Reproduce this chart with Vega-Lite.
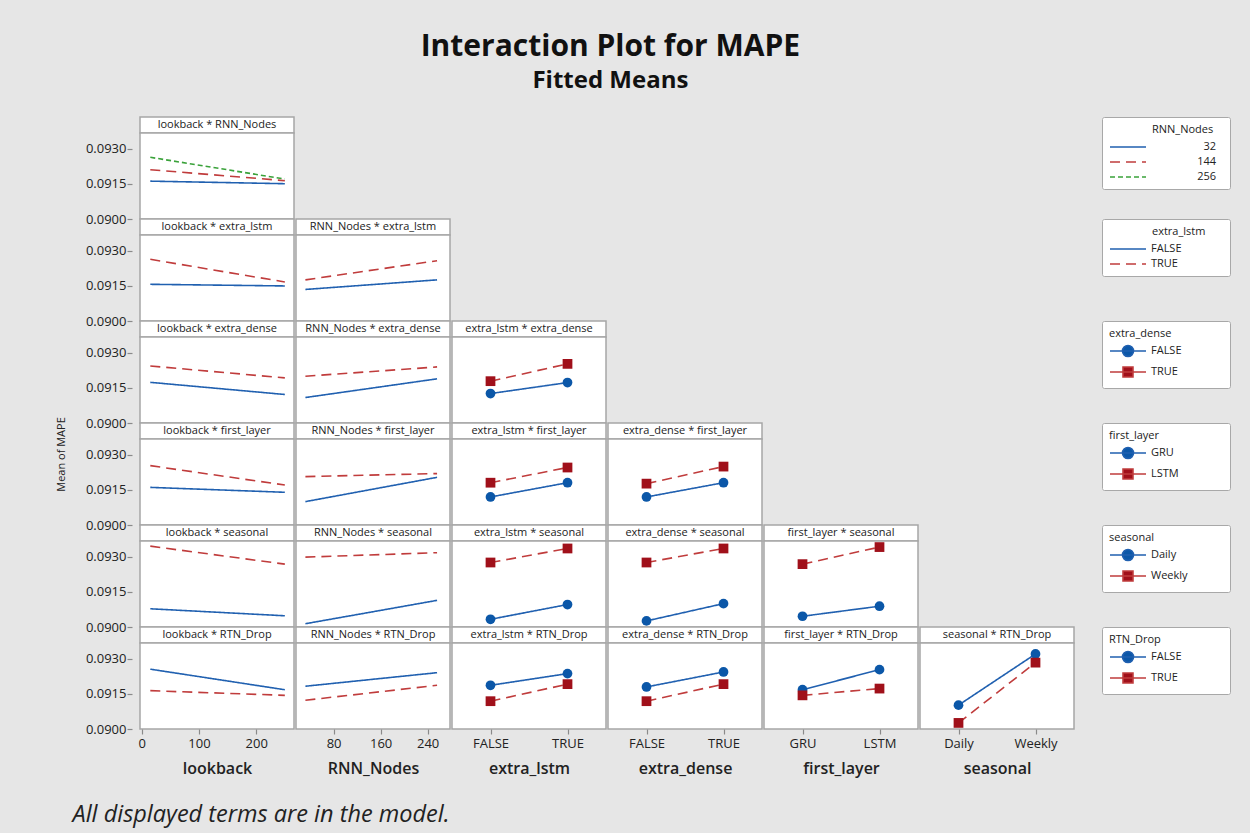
{
  "$schema": "https://vega.github.io/schema/vega-lite/v6.json",
  "padding": {"left": 54, "top": 32, "right": 21, "bottom": 8},
  "title": {"text": "Interaction Plot for MAPE", "subtitle": "Fitted Means", "fontSize": 30, "subtitleFontSize": 24, "fontWeight": "bold", "subtitleFontWeight": "bold", "font": "Open Sans", "subtitleFont": "Open Sans", "color": "#111111", "subtitleColor": "#111111", "anchor": "middle", "offset": 23, "dx": -32, "subtitlePadding": 7},
  "datasets": {
    "p11": [{"x":15,"s":"32","y":0.09162},{"x":250,"s":"32","y":0.09151},{"x":15,"s":"144","y":0.09211},{"x":250,"s":"144","y":0.09164},{"x":15,"s":"256","y":0.09264},{"x":250,"s":"256","y":0.09171}],
    "p21": [{"x":15,"s":"FALSE","y":0.09157},{"x":250,"s":"FALSE","y":0.0915},{"x":15,"s":"TRUE","y":0.09264},{"x":250,"s":"TRUE","y":0.09167}],
    "p22": [{"x":32,"s":"FALSE","y":0.09135},{"x":256,"s":"FALSE","y":0.09176},{"x":32,"s":"TRUE","y":0.09176},{"x":256,"s":"TRUE","y":0.09258}],
    "p31": [{"x":15,"s":"FALSE","y":0.09174},{"x":250,"s":"FALSE","y":0.09122},{"x":15,"s":"TRUE","y":0.09244},{"x":250,"s":"TRUE","y":0.09193}],
    "p32": [{"x":32,"s":"FALSE","y":0.09109},{"x":256,"s":"FALSE","y":0.09189},{"x":32,"s":"TRUE","y":0.092},{"x":256,"s":"TRUE","y":0.0924}],
    "p33": [{"x":"FALSE","s":"FALSE","y":0.09126},{"x":"TRUE","s":"FALSE","y":0.09173},{"x":"FALSE","s":"TRUE","y":0.09179},{"x":"TRUE","s":"TRUE","y":0.09253}],
    "p41": [{"x":15,"s":"GRU","y":0.09161},{"x":250,"s":"GRU","y":0.0914},{"x":15,"s":"LSTM","y":0.09254},{"x":250,"s":"LSTM","y":0.09171}],
    "p42": [{"x":32,"s":"GRU","y":0.091},{"x":256,"s":"GRU","y":0.09204},{"x":32,"s":"LSTM","y":0.09207},{"x":256,"s":"LSTM","y":0.0922}],
    "p43": [{"x":"FALSE","s":"GRU","y":0.0912},{"x":"TRUE","s":"GRU","y":0.09181},{"x":"FALSE","s":"LSTM","y":0.09181},{"x":"TRUE","s":"LSTM","y":0.09246}],
    "p44": [{"x":"FALSE","s":"GRU","y":0.0912},{"x":"TRUE","s":"GRU","y":0.09181},{"x":"FALSE","s":"LSTM","y":0.09177},{"x":"TRUE","s":"LSTM","y":0.0925}],
    "p51": [{"x":15,"s":"Daily","y":0.09078},{"x":250,"s":"Daily","y":0.09048},{"x":15,"s":"Weekly","y":0.09346},{"x":250,"s":"Weekly","y":0.09269}],
    "p52": [{"x":32,"s":"Daily","y":0.09014},{"x":256,"s":"Daily","y":0.09114},{"x":32,"s":"Weekly","y":0.09299},{"x":256,"s":"Weekly","y":0.09318}],
    "p53": [{"x":"FALSE","s":"Daily","y":0.09033},{"x":"TRUE","s":"Daily","y":0.09096},{"x":"FALSE","s":"Weekly","y":0.09276},{"x":"TRUE","s":"Weekly","y":0.09336}],
    "p54": [{"x":"FALSE","s":"Daily","y":0.09026},{"x":"TRUE","s":"Daily","y":0.091},{"x":"FALSE","s":"Weekly","y":0.09276},{"x":"TRUE","s":"Weekly","y":0.09336}],
    "p55": [{"x":"GRU","s":"Daily","y":0.09046},{"x":"LSTM","s":"Daily","y":0.09089},{"x":"GRU","s":"Weekly","y":0.09269},{"x":"LSTM","s":"Weekly","y":0.09342}],
    "p61": [{"x":15,"s":"FALSE","y":0.09256},{"x":250,"s":"FALSE","y":0.09168},{"x":15,"s":"TRUE","y":0.09164},{"x":250,"s":"TRUE","y":0.09144}],
    "p62": [{"x":32,"s":"FALSE","y":0.09183},{"x":256,"s":"FALSE","y":0.09241},{"x":32,"s":"TRUE","y":0.09123},{"x":256,"s":"TRUE","y":0.09187}],
    "p63": [{"x":"FALSE","s":"FALSE","y":0.09187},{"x":"TRUE","s":"FALSE","y":0.09237},{"x":"FALSE","s":"TRUE","y":0.09119},{"x":"TRUE","s":"TRUE","y":0.09192}],
    "p64": [{"x":"FALSE","s":"FALSE","y":0.0918},{"x":"TRUE","s":"FALSE","y":0.09244},{"x":"FALSE","s":"TRUE","y":0.09119},{"x":"TRUE","s":"TRUE","y":0.09192}],
    "p65": [{"x":"GRU","s":"FALSE","y":0.09168},{"x":"LSTM","s":"FALSE","y":0.09254},{"x":"GRU","s":"TRUE","y":0.09144},{"x":"LSTM","s":"TRUE","y":0.09173}],
    "p66": [{"x":"Daily","s":"FALSE","y":0.09102},{"x":"Weekly","s":"FALSE","y":0.09321},{"x":"Daily","s":"TRUE","y":0.09026},{"x":"Weekly","s":"TRUE","y":0.09284}]
  },
  "spacing": 25,
  "resolve": {"scale": {"x": "independent", "y": "independent", "stroke": "independent", "fill": "independent", "shape": "independent", "strokeDash": "independent"}, "axis": {"x": "independent", "y": "independent"}, "legend": {"stroke": "independent", "fill": "independent", "shape": "independent", "strokeDash": "independent"}},
  "vconcat": [
    {
      "spacing": 0,
      "resolve": {"scale": {"x": "independent", "y": "independent", "stroke": "independent", "fill": "independent", "shape": "independent", "strokeDash": "independent"}, "axis": {"x": "independent", "y": "independent"}, "legend": {"stroke": "independent", "fill": "independent", "shape": "independent", "strokeDash": "independent"}},
      "hconcat": [
        {
          "spacing": 0, "bounds": "flush",
          "resolve": {"scale": {"x": "independent", "y": "independent", "stroke": "independent", "fill": "independent", "shape": "independent", "strokeDash": "independent"}, "axis": {"x": "independent", "y": "independent"}, "legend": {"stroke": "independent", "fill": "independent", "shape": "independent", "strokeDash": "independent"}},
          "vconcat": [
            {"width":154,"height":16,"view":{"stroke":"#a6a6a6","strokeWidth":1.5,"fill":"#ffffff"},"data":{"values":[{"t":"lookback * RNN_Nodes"}]},"mark":{"type":"text","fontSize":11,"font":"Open Sans","color":"#222222"},"encoding":{"text":{"field":"t","type":"nominal"}}},
            {"width":154,"height":86,"view":{"stroke":"#a6a6a6","strokeWidth":1.5,"fill":"#ffffff"},"data":{"name":"p11"},"mark":{"type":"line","strokeWidth":1.6},"encoding":{"x":{"field":"x","type":"quantitative","scale":{"domain":[-3,266],"nice":false,"zero":false},"axis":null},"y":{"field":"y","type":"quantitative","scale":{"domain":[0.09,0.09368],"nice":false,"zero":false},"axis":{"values":[0.09,0.0915,0.093],"format":".4f","title":null}},"stroke":{"field":"s","type":"nominal","scale":{"domain":["32","144","256"],"range":["#2060b0","#c03c3c","#3aa23a"]},"legend":null},"strokeDash":{"field":"s","type":"nominal","scale":{"domain":["32","144","256"],"range":[[1,0],[10,6],[5,3]]},"legend":null}}},
            {"width":154,"height":16,"view":{"stroke":"#a6a6a6","strokeWidth":1.5,"fill":"#ffffff"},"data":{"values":[{"t":"lookback * extra_lstm"}]},"mark":{"type":"text","fontSize":11,"font":"Open Sans","color":"#222222"},"encoding":{"text":{"field":"t","type":"nominal"}}},
            {"width":154,"height":86,"view":{"stroke":"#a6a6a6","strokeWidth":1.5,"fill":"#ffffff"},"data":{"name":"p21"},"mark":{"type":"line","strokeWidth":1.6},"encoding":{"x":{"field":"x","type":"quantitative","scale":{"domain":[-3,266],"nice":false,"zero":false},"axis":null},"y":{"field":"y","type":"quantitative","scale":{"domain":[0.09,0.09368],"nice":false,"zero":false},"axis":{"values":[0.09,0.0915,0.093],"format":".4f","title":null}},"stroke":{"field":"s","type":"nominal","scale":{"domain":["FALSE","TRUE"],"range":["#2060b0","#c03c3c"]},"legend":null},"strokeDash":{"field":"s","type":"nominal","scale":{"domain":["FALSE","TRUE"],"range":[[1,0],[10,6]]},"legend":null}}},
            {"width":154,"height":16,"view":{"stroke":"#a6a6a6","strokeWidth":1.5,"fill":"#ffffff"},"data":{"values":[{"t":"lookback * extra_dense"}]},"mark":{"type":"text","fontSize":11,"font":"Open Sans","color":"#222222"},"encoding":{"text":{"field":"t","type":"nominal"}}},
            {"width":154,"height":86,"view":{"stroke":"#a6a6a6","strokeWidth":1.5,"fill":"#ffffff"},"data":{"name":"p31"},"mark":{"type":"line","strokeWidth":1.6},"encoding":{"x":{"field":"x","type":"quantitative","scale":{"domain":[-3,266],"nice":false,"zero":false},"axis":null},"y":{"field":"y","type":"quantitative","scale":{"domain":[0.09,0.09368],"nice":false,"zero":false},"axis":{"values":[0.09,0.0915,0.093],"format":".4f","title":null}},"stroke":{"field":"s","type":"nominal","scale":{"domain":["FALSE","TRUE"],"range":["#2060b0","#c03c3c"]},"legend":null},"strokeDash":{"field":"s","type":"nominal","scale":{"domain":["FALSE","TRUE"],"range":[[1,0],[10,6]]},"legend":null}}},
            {"width":154,"height":16,"view":{"stroke":"#a6a6a6","strokeWidth":1.5,"fill":"#ffffff"},"data":{"values":[{"t":"lookback * first_layer"}]},"mark":{"type":"text","fontSize":11,"font":"Open Sans","color":"#222222"},"encoding":{"text":{"field":"t","type":"nominal"}}},
            {"width":154,"height":86,"view":{"stroke":"#a6a6a6","strokeWidth":1.5,"fill":"#ffffff"},"data":{"name":"p41"},"mark":{"type":"line","strokeWidth":1.6},"encoding":{"x":{"field":"x","type":"quantitative","scale":{"domain":[-3,266],"nice":false,"zero":false},"axis":null},"y":{"field":"y","type":"quantitative","scale":{"domain":[0.09,0.09368],"nice":false,"zero":false},"axis":{"values":[0.09,0.0915,0.093],"format":".4f","title":"Mean of MAPE","titleFontSize":11,"titleFontWeight":"normal","titleX":-66,"titleY":15,"titleAngle":270,"titleAlign":"center","titleBaseline":"bottom"}},"stroke":{"field":"s","type":"nominal","scale":{"domain":["GRU","LSTM"],"range":["#2060b0","#c03c3c"]},"legend":null},"strokeDash":{"field":"s","type":"nominal","scale":{"domain":["GRU","LSTM"],"range":[[1,0],[10,6]]},"legend":null}}},
            {"width":154,"height":16,"view":{"stroke":"#a6a6a6","strokeWidth":1.5,"fill":"#ffffff"},"data":{"values":[{"t":"lookback * seasonal"}]},"mark":{"type":"text","fontSize":11,"font":"Open Sans","color":"#222222"},"encoding":{"text":{"field":"t","type":"nominal"}}},
            {"width":154,"height":86,"view":{"stroke":"#a6a6a6","strokeWidth":1.5,"fill":"#ffffff"},"data":{"name":"p51"},"mark":{"type":"line","strokeWidth":1.6},"encoding":{"x":{"field":"x","type":"quantitative","scale":{"domain":[-3,266],"nice":false,"zero":false},"axis":null},"y":{"field":"y","type":"quantitative","scale":{"domain":[0.09,0.09368],"nice":false,"zero":false},"axis":{"values":[0.09,0.0915,0.093],"format":".4f","title":null}},"stroke":{"field":"s","type":"nominal","scale":{"domain":["Daily","Weekly"],"range":["#2060b0","#c03c3c"]},"legend":null},"strokeDash":{"field":"s","type":"nominal","scale":{"domain":["Daily","Weekly"],"range":[[1,0],[10,6]]},"legend":null}}},
            {"width":154,"height":16,"view":{"stroke":"#a6a6a6","strokeWidth":1.5,"fill":"#ffffff"},"data":{"values":[{"t":"lookback * RTN_Drop"}]},"mark":{"type":"text","fontSize":11,"font":"Open Sans","color":"#222222"},"encoding":{"text":{"field":"t","type":"nominal"}}},
            {"width":154,"height":86,"view":{"stroke":"#a6a6a6","strokeWidth":1.5,"fill":"#ffffff"},"data":{"name":"p61"},"mark":{"type":"line","strokeWidth":1.6},"encoding":{"x":{"field":"x","type":"quantitative","scale":{"domain":[-3,266],"nice":false,"zero":false},"axis":{"values":[0,100,200],"title":"lookback"}},"y":{"field":"y","type":"quantitative","scale":{"domain":[0.09,0.09368],"nice":false,"zero":false},"axis":{"values":[0.09,0.0915,0.093],"format":".4f","title":null}},"stroke":{"field":"s","type":"nominal","scale":{"domain":["FALSE","TRUE"],"range":["#2060b0","#c03c3c"]},"legend":null},"strokeDash":{"field":"s","type":"nominal","scale":{"domain":["FALSE","TRUE"],"range":[[1,0],[10,6]]},"legend":null}}}
          ]
        },
        {
          "spacing": 0, "bounds": "flush",
          "resolve": {"scale": {"x": "independent", "y": "independent", "stroke": "independent", "fill": "independent", "shape": "independent", "strokeDash": "independent"}, "axis": {"x": "independent", "y": "independent"}, "legend": {"stroke": "independent", "fill": "independent", "shape": "independent", "strokeDash": "independent"}},
          "vconcat": [
            {"width":154,"height":102,"data":{"values":[]},"mark":"point"},
            {"width":154,"height":16,"view":{"stroke":"#a6a6a6","strokeWidth":1.5,"fill":"#ffffff"},"data":{"values":[{"t":"RNN_Nodes * extra_lstm"}]},"mark":{"type":"text","fontSize":11,"font":"Open Sans","color":"#222222"},"encoding":{"text":{"field":"t","type":"nominal"}}},
            {"width":154,"height":86,"view":{"stroke":"#a6a6a6","strokeWidth":1.5,"fill":"#ffffff"},"data":{"name":"p22"},"mark":{"type":"line","strokeWidth":1.6},"encoding":{"x":{"field":"x","type":"quantitative","scale":{"domain":[16,278],"nice":false,"zero":false},"axis":null},"y":{"field":"y","type":"quantitative","scale":{"domain":[0.09,0.09368],"nice":false,"zero":false},"axis":null},"stroke":{"field":"s","type":"nominal","scale":{"domain":["FALSE","TRUE"],"range":["#2060b0","#c03c3c"]},"legend":null},"strokeDash":{"field":"s","type":"nominal","scale":{"domain":["FALSE","TRUE"],"range":[[1,0],[10,6]]},"legend":null}}},
            {"width":154,"height":16,"view":{"stroke":"#a6a6a6","strokeWidth":1.5,"fill":"#ffffff"},"data":{"values":[{"t":"RNN_Nodes * extra_dense"}]},"mark":{"type":"text","fontSize":11,"font":"Open Sans","color":"#222222"},"encoding":{"text":{"field":"t","type":"nominal"}}},
            {"width":154,"height":86,"view":{"stroke":"#a6a6a6","strokeWidth":1.5,"fill":"#ffffff"},"data":{"name":"p32"},"mark":{"type":"line","strokeWidth":1.6},"encoding":{"x":{"field":"x","type":"quantitative","scale":{"domain":[16,278],"nice":false,"zero":false},"axis":null},"y":{"field":"y","type":"quantitative","scale":{"domain":[0.09,0.09368],"nice":false,"zero":false},"axis":null},"stroke":{"field":"s","type":"nominal","scale":{"domain":["FALSE","TRUE"],"range":["#2060b0","#c03c3c"]},"legend":null},"strokeDash":{"field":"s","type":"nominal","scale":{"domain":["FALSE","TRUE"],"range":[[1,0],[10,6]]},"legend":null}}},
            {"width":154,"height":16,"view":{"stroke":"#a6a6a6","strokeWidth":1.5,"fill":"#ffffff"},"data":{"values":[{"t":"RNN_Nodes * first_layer"}]},"mark":{"type":"text","fontSize":11,"font":"Open Sans","color":"#222222"},"encoding":{"text":{"field":"t","type":"nominal"}}},
            {"width":154,"height":86,"view":{"stroke":"#a6a6a6","strokeWidth":1.5,"fill":"#ffffff"},"data":{"name":"p42"},"mark":{"type":"line","strokeWidth":1.6},"encoding":{"x":{"field":"x","type":"quantitative","scale":{"domain":[16,278],"nice":false,"zero":false},"axis":null},"y":{"field":"y","type":"quantitative","scale":{"domain":[0.09,0.09368],"nice":false,"zero":false},"axis":null},"stroke":{"field":"s","type":"nominal","scale":{"domain":["GRU","LSTM"],"range":["#2060b0","#c03c3c"]},"legend":null},"strokeDash":{"field":"s","type":"nominal","scale":{"domain":["GRU","LSTM"],"range":[[1,0],[10,6]]},"legend":null}}},
            {"width":154,"height":16,"view":{"stroke":"#a6a6a6","strokeWidth":1.5,"fill":"#ffffff"},"data":{"values":[{"t":"RNN_Nodes * seasonal"}]},"mark":{"type":"text","fontSize":11,"font":"Open Sans","color":"#222222"},"encoding":{"text":{"field":"t","type":"nominal"}}},
            {"width":154,"height":86,"view":{"stroke":"#a6a6a6","strokeWidth":1.5,"fill":"#ffffff"},"data":{"name":"p52"},"mark":{"type":"line","strokeWidth":1.6},"encoding":{"x":{"field":"x","type":"quantitative","scale":{"domain":[16,278],"nice":false,"zero":false},"axis":null},"y":{"field":"y","type":"quantitative","scale":{"domain":[0.09,0.09368],"nice":false,"zero":false},"axis":null},"stroke":{"field":"s","type":"nominal","scale":{"domain":["Daily","Weekly"],"range":["#2060b0","#c03c3c"]},"legend":null},"strokeDash":{"field":"s","type":"nominal","scale":{"domain":["Daily","Weekly"],"range":[[1,0],[10,6]]},"legend":null}}},
            {"width":154,"height":16,"view":{"stroke":"#a6a6a6","strokeWidth":1.5,"fill":"#ffffff"},"data":{"values":[{"t":"RNN_Nodes * RTN_Drop"}]},"mark":{"type":"text","fontSize":11,"font":"Open Sans","color":"#222222"},"encoding":{"text":{"field":"t","type":"nominal"}}},
            {"width":154,"height":86,"view":{"stroke":"#a6a6a6","strokeWidth":1.5,"fill":"#ffffff"},"data":{"name":"p62"},"mark":{"type":"line","strokeWidth":1.6},"encoding":{"x":{"field":"x","type":"quantitative","scale":{"domain":[16,278],"nice":false,"zero":false},"axis":{"values":[80,160,240],"title":"RNN_Nodes"}},"y":{"field":"y","type":"quantitative","scale":{"domain":[0.09,0.09368],"nice":false,"zero":false},"axis":null},"stroke":{"field":"s","type":"nominal","scale":{"domain":["FALSE","TRUE"],"range":["#2060b0","#c03c3c"]},"legend":null},"strokeDash":{"field":"s","type":"nominal","scale":{"domain":["FALSE","TRUE"],"range":[[1,0],[10,6]]},"legend":null}}}
          ]
        },
        {
          "spacing": 0, "bounds": "flush",
          "resolve": {"scale": {"x": "independent", "y": "independent", "stroke": "independent", "fill": "independent", "shape": "independent", "strokeDash": "independent"}, "axis": {"x": "independent", "y": "independent"}, "legend": {"stroke": "independent", "fill": "independent", "shape": "independent", "strokeDash": "independent"}},
          "vconcat": [
            {"width":154,"height":204,"data":{"values":[]},"mark":"point"},
            {"width":154,"height":16,"view":{"stroke":"#a6a6a6","strokeWidth":1.5,"fill":"#ffffff"},"data":{"values":[{"t":"extra_lstm * extra_dense"}]},"mark":{"type":"text","fontSize":11,"font":"Open Sans","color":"#222222"},"encoding":{"text":{"field":"t","type":"nominal"}}},
            {"width":154,"height":86,"view":{"stroke":"#a6a6a6","strokeWidth":1.5,"fill":"#ffffff"},"data":{"name":"p33"},"encoding":{"x":{"field":"x","type":"nominal","scale":{"type":"point","domain":["FALSE","TRUE"],"padding":0.5},"axis":null},"y":{"field":"y","type":"quantitative","scale":{"domain":[0.09,0.09368],"nice":false,"zero":false},"axis":null}},
             "layer":[
              {"mark":{"type":"line","strokeWidth":1.6},"encoding":{"stroke":{"field":"s","type":"nominal","scale":{"domain":["FALSE","TRUE"],"range":["#2060b0","#c03c3c"]},"legend":null},"strokeDash":{"field":"s","type":"nominal","scale":{"domain":["FALSE","TRUE"],"range":[[1,0],[10,6]]},"legend":null}}},
              {"mark":{"type":"point","filled":true,"size":95,"opacity":1},"encoding":{"fill":{"field":"s","type":"nominal","scale":{"domain":["FALSE","TRUE"],"range":["#0b57a8","#a0101a"]},"legend":null},"shape":{"field":"s","type":"nominal","scale":{"domain":["FALSE","TRUE"],"range":["circle","square"]},"legend":null}}}
             ]},
            {"width":154,"height":16,"view":{"stroke":"#a6a6a6","strokeWidth":1.5,"fill":"#ffffff"},"data":{"values":[{"t":"extra_lstm * first_layer"}]},"mark":{"type":"text","fontSize":11,"font":"Open Sans","color":"#222222"},"encoding":{"text":{"field":"t","type":"nominal"}}},
            {"width":154,"height":86,"view":{"stroke":"#a6a6a6","strokeWidth":1.5,"fill":"#ffffff"},"data":{"name":"p43"},"encoding":{"x":{"field":"x","type":"nominal","scale":{"type":"point","domain":["FALSE","TRUE"],"padding":0.5},"axis":null},"y":{"field":"y","type":"quantitative","scale":{"domain":[0.09,0.09368],"nice":false,"zero":false},"axis":null}},
             "layer":[
              {"mark":{"type":"line","strokeWidth":1.6},"encoding":{"stroke":{"field":"s","type":"nominal","scale":{"domain":["GRU","LSTM"],"range":["#2060b0","#c03c3c"]},"legend":null},"strokeDash":{"field":"s","type":"nominal","scale":{"domain":["GRU","LSTM"],"range":[[1,0],[10,6]]},"legend":null}}},
              {"mark":{"type":"point","filled":true,"size":95,"opacity":1},"encoding":{"fill":{"field":"s","type":"nominal","scale":{"domain":["GRU","LSTM"],"range":["#0b57a8","#a0101a"]},"legend":null},"shape":{"field":"s","type":"nominal","scale":{"domain":["GRU","LSTM"],"range":["circle","square"]},"legend":null}}}
             ]},
            {"width":154,"height":16,"view":{"stroke":"#a6a6a6","strokeWidth":1.5,"fill":"#ffffff"},"data":{"values":[{"t":"extra_lstm * seasonal"}]},"mark":{"type":"text","fontSize":11,"font":"Open Sans","color":"#222222"},"encoding":{"text":{"field":"t","type":"nominal"}}},
            {"width":154,"height":86,"view":{"stroke":"#a6a6a6","strokeWidth":1.5,"fill":"#ffffff"},"data":{"name":"p53"},"encoding":{"x":{"field":"x","type":"nominal","scale":{"type":"point","domain":["FALSE","TRUE"],"padding":0.5},"axis":null},"y":{"field":"y","type":"quantitative","scale":{"domain":[0.09,0.09368],"nice":false,"zero":false},"axis":null}},
             "layer":[
              {"mark":{"type":"line","strokeWidth":1.6},"encoding":{"stroke":{"field":"s","type":"nominal","scale":{"domain":["Daily","Weekly"],"range":["#2060b0","#c03c3c"]},"legend":null},"strokeDash":{"field":"s","type":"nominal","scale":{"domain":["Daily","Weekly"],"range":[[1,0],[10,6]]},"legend":null}}},
              {"mark":{"type":"point","filled":true,"size":95,"opacity":1},"encoding":{"fill":{"field":"s","type":"nominal","scale":{"domain":["Daily","Weekly"],"range":["#0b57a8","#a0101a"]},"legend":null},"shape":{"field":"s","type":"nominal","scale":{"domain":["Daily","Weekly"],"range":["circle","square"]},"legend":null}}}
             ]},
            {"width":154,"height":16,"view":{"stroke":"#a6a6a6","strokeWidth":1.5,"fill":"#ffffff"},"data":{"values":[{"t":"extra_lstm * RTN_Drop"}]},"mark":{"type":"text","fontSize":11,"font":"Open Sans","color":"#222222"},"encoding":{"text":{"field":"t","type":"nominal"}}},
            {"width":154,"height":86,"view":{"stroke":"#a6a6a6","strokeWidth":1.5,"fill":"#ffffff"},"data":{"name":"p63"},"encoding":{"x":{"field":"x","type":"nominal","scale":{"type":"point","domain":["FALSE","TRUE"],"padding":0.5},"axis":{"title":"extra_lstm"}},"y":{"field":"y","type":"quantitative","scale":{"domain":[0.09,0.09368],"nice":false,"zero":false},"axis":null}},
             "layer":[
              {"mark":{"type":"line","strokeWidth":1.6},"encoding":{"stroke":{"field":"s","type":"nominal","scale":{"domain":["FALSE","TRUE"],"range":["#2060b0","#c03c3c"]},"legend":null},"strokeDash":{"field":"s","type":"nominal","scale":{"domain":["FALSE","TRUE"],"range":[[1,0],[10,6]]},"legend":null}}},
              {"mark":{"type":"point","filled":true,"size":95,"opacity":1},"encoding":{"fill":{"field":"s","type":"nominal","scale":{"domain":["FALSE","TRUE"],"range":["#0b57a8","#a0101a"]},"legend":null},"shape":{"field":"s","type":"nominal","scale":{"domain":["FALSE","TRUE"],"range":["circle","square"]},"legend":null}}}
             ]}
          ]
        },
        {
          "spacing": 0, "bounds": "flush",
          "resolve": {"scale": {"x": "independent", "y": "independent", "stroke": "independent", "fill": "independent", "shape": "independent", "strokeDash": "independent"}, "axis": {"x": "independent", "y": "independent"}, "legend": {"stroke": "independent", "fill": "independent", "shape": "independent", "strokeDash": "independent"}},
          "vconcat": [
            {"width":154,"height":306,"data":{"values":[]},"mark":"point"},
            {"width":154,"height":16,"view":{"stroke":"#a6a6a6","strokeWidth":1.5,"fill":"#ffffff"},"data":{"values":[{"t":"extra_dense * first_layer"}]},"mark":{"type":"text","fontSize":11,"font":"Open Sans","color":"#222222"},"encoding":{"text":{"field":"t","type":"nominal"}}},
            {"width":154,"height":86,"view":{"stroke":"#a6a6a6","strokeWidth":1.5,"fill":"#ffffff"},"data":{"name":"p44"},"encoding":{"x":{"field":"x","type":"nominal","scale":{"type":"point","domain":["FALSE","TRUE"],"padding":0.5},"axis":null},"y":{"field":"y","type":"quantitative","scale":{"domain":[0.09,0.09368],"nice":false,"zero":false},"axis":null}},
             "layer":[
              {"mark":{"type":"line","strokeWidth":1.6},"encoding":{"stroke":{"field":"s","type":"nominal","scale":{"domain":["GRU","LSTM"],"range":["#2060b0","#c03c3c"]},"legend":null},"strokeDash":{"field":"s","type":"nominal","scale":{"domain":["GRU","LSTM"],"range":[[1,0],[10,6]]},"legend":null}}},
              {"mark":{"type":"point","filled":true,"size":95,"opacity":1},"encoding":{"fill":{"field":"s","type":"nominal","scale":{"domain":["GRU","LSTM"],"range":["#0b57a8","#a0101a"]},"legend":null},"shape":{"field":"s","type":"nominal","scale":{"domain":["GRU","LSTM"],"range":["circle","square"]},"legend":null}}}
             ]},
            {"width":154,"height":16,"view":{"stroke":"#a6a6a6","strokeWidth":1.5,"fill":"#ffffff"},"data":{"values":[{"t":"extra_dense * seasonal"}]},"mark":{"type":"text","fontSize":11,"font":"Open Sans","color":"#222222"},"encoding":{"text":{"field":"t","type":"nominal"}}},
            {"width":154,"height":86,"view":{"stroke":"#a6a6a6","strokeWidth":1.5,"fill":"#ffffff"},"data":{"name":"p54"},"encoding":{"x":{"field":"x","type":"nominal","scale":{"type":"point","domain":["FALSE","TRUE"],"padding":0.5},"axis":null},"y":{"field":"y","type":"quantitative","scale":{"domain":[0.09,0.09368],"nice":false,"zero":false},"axis":null}},
             "layer":[
              {"mark":{"type":"line","strokeWidth":1.6},"encoding":{"stroke":{"field":"s","type":"nominal","scale":{"domain":["Daily","Weekly"],"range":["#2060b0","#c03c3c"]},"legend":null},"strokeDash":{"field":"s","type":"nominal","scale":{"domain":["Daily","Weekly"],"range":[[1,0],[10,6]]},"legend":null}}},
              {"mark":{"type":"point","filled":true,"size":95,"opacity":1},"encoding":{"fill":{"field":"s","type":"nominal","scale":{"domain":["Daily","Weekly"],"range":["#0b57a8","#a0101a"]},"legend":null},"shape":{"field":"s","type":"nominal","scale":{"domain":["Daily","Weekly"],"range":["circle","square"]},"legend":null}}}
             ]},
            {"width":154,"height":16,"view":{"stroke":"#a6a6a6","strokeWidth":1.5,"fill":"#ffffff"},"data":{"values":[{"t":"extra_dense * RTN_Drop"}]},"mark":{"type":"text","fontSize":11,"font":"Open Sans","color":"#222222"},"encoding":{"text":{"field":"t","type":"nominal"}}},
            {"width":154,"height":86,"view":{"stroke":"#a6a6a6","strokeWidth":1.5,"fill":"#ffffff"},"data":{"name":"p64"},"encoding":{"x":{"field":"x","type":"nominal","scale":{"type":"point","domain":["FALSE","TRUE"],"padding":0.5},"axis":{"title":"extra_dense"}},"y":{"field":"y","type":"quantitative","scale":{"domain":[0.09,0.09368],"nice":false,"zero":false},"axis":null}},
             "layer":[
              {"mark":{"type":"line","strokeWidth":1.6},"encoding":{"stroke":{"field":"s","type":"nominal","scale":{"domain":["FALSE","TRUE"],"range":["#2060b0","#c03c3c"]},"legend":null},"strokeDash":{"field":"s","type":"nominal","scale":{"domain":["FALSE","TRUE"],"range":[[1,0],[10,6]]},"legend":null}}},
              {"mark":{"type":"point","filled":true,"size":95,"opacity":1},"encoding":{"fill":{"field":"s","type":"nominal","scale":{"domain":["FALSE","TRUE"],"range":["#0b57a8","#a0101a"]},"legend":null},"shape":{"field":"s","type":"nominal","scale":{"domain":["FALSE","TRUE"],"range":["circle","square"]},"legend":null}}}
             ]}
          ]
        },
        {
          "spacing": 0, "bounds": "flush",
          "resolve": {"scale": {"x": "independent", "y": "independent", "stroke": "independent", "fill": "independent", "shape": "independent", "strokeDash": "independent"}, "axis": {"x": "independent", "y": "independent"}, "legend": {"stroke": "independent", "fill": "independent", "shape": "independent", "strokeDash": "independent"}},
          "vconcat": [
            {"width":154,"height":408,"data":{"values":[]},"mark":"point"},
            {"width":154,"height":16,"view":{"stroke":"#a6a6a6","strokeWidth":1.5,"fill":"#ffffff"},"data":{"values":[{"t":"first_layer * seasonal"}]},"mark":{"type":"text","fontSize":11,"font":"Open Sans","color":"#222222"},"encoding":{"text":{"field":"t","type":"nominal"}}},
            {"width":154,"height":86,"view":{"stroke":"#a6a6a6","strokeWidth":1.5,"fill":"#ffffff"},"data":{"name":"p55"},"encoding":{"x":{"field":"x","type":"nominal","scale":{"type":"point","domain":["GRU","LSTM"],"padding":0.5},"axis":null},"y":{"field":"y","type":"quantitative","scale":{"domain":[0.09,0.09368],"nice":false,"zero":false},"axis":null}},
             "layer":[
              {"mark":{"type":"line","strokeWidth":1.6},"encoding":{"stroke":{"field":"s","type":"nominal","scale":{"domain":["Daily","Weekly"],"range":["#2060b0","#c03c3c"]},"legend":null},"strokeDash":{"field":"s","type":"nominal","scale":{"domain":["Daily","Weekly"],"range":[[1,0],[10,6]]},"legend":null}}},
              {"mark":{"type":"point","filled":true,"size":95,"opacity":1},"encoding":{"fill":{"field":"s","type":"nominal","scale":{"domain":["Daily","Weekly"],"range":["#0b57a8","#a0101a"]},"legend":null},"shape":{"field":"s","type":"nominal","scale":{"domain":["Daily","Weekly"],"range":["circle","square"]},"legend":null}}}
             ]},
            {"width":154,"height":16,"view":{"stroke":"#a6a6a6","strokeWidth":1.5,"fill":"#ffffff"},"data":{"values":[{"t":"first_layer * RTN_Drop"}]},"mark":{"type":"text","fontSize":11,"font":"Open Sans","color":"#222222"},"encoding":{"text":{"field":"t","type":"nominal"}}},
            {"width":154,"height":86,"view":{"stroke":"#a6a6a6","strokeWidth":1.5,"fill":"#ffffff"},"data":{"name":"p65"},"encoding":{"x":{"field":"x","type":"nominal","scale":{"type":"point","domain":["GRU","LSTM"],"padding":0.5},"axis":{"title":"first_layer"}},"y":{"field":"y","type":"quantitative","scale":{"domain":[0.09,0.09368],"nice":false,"zero":false},"axis":null}},
             "layer":[
              {"mark":{"type":"line","strokeWidth":1.6},"encoding":{"stroke":{"field":"s","type":"nominal","scale":{"domain":["FALSE","TRUE"],"range":["#2060b0","#c03c3c"]},"legend":null},"strokeDash":{"field":"s","type":"nominal","scale":{"domain":["FALSE","TRUE"],"range":[[1,0],[10,6]]},"legend":null}}},
              {"mark":{"type":"point","filled":true,"size":95,"opacity":1},"encoding":{"fill":{"field":"s","type":"nominal","scale":{"domain":["FALSE","TRUE"],"range":["#0b57a8","#a0101a"]},"legend":null},"shape":{"field":"s","type":"nominal","scale":{"domain":["FALSE","TRUE"],"range":["circle","square"]},"legend":null}}}
             ]}
          ]
        },
        {
          "spacing": 0, "bounds": "flush",
          "resolve": {"scale": {"x": "independent", "y": "independent", "stroke": "independent", "fill": "independent", "shape": "independent", "strokeDash": "independent"}, "axis": {"x": "independent", "y": "independent"}, "legend": {"stroke": "independent", "fill": "independent", "shape": "independent", "strokeDash": "independent"}},
          "vconcat": [
            {"width":154,"height":510,"data":{"values":[]},"mark":"point"},
            {"width":154,"height":16,"view":{"stroke":"#a6a6a6","strokeWidth":1.5,"fill":"#ffffff"},"data":{"values":[{"t":"seasonal * RTN_Drop"}]},"mark":{"type":"text","fontSize":11,"font":"Open Sans","color":"#222222"},"encoding":{"text":{"field":"t","type":"nominal"}}},
            {"width":154,"height":86,"view":{"stroke":"#a6a6a6","strokeWidth":1.5,"fill":"#ffffff"},"data":{"name":"p66"},"encoding":{"x":{"field":"x","type":"nominal","scale":{"type":"point","domain":["Daily","Weekly"],"padding":0.5},"axis":{"title":"seasonal"}},"y":{"field":"y","type":"quantitative","scale":{"domain":[0.09,0.09368],"nice":false,"zero":false},"axis":null}},
             "layer":[
              {"mark":{"type":"line","strokeWidth":1.6},"encoding":{"stroke":{"field":"s","type":"nominal","scale":{"domain":["FALSE","TRUE"],"range":["#2060b0","#c03c3c"]},"legend":null},"strokeDash":{"field":"s","type":"nominal","scale":{"domain":["FALSE","TRUE"],"range":[[1,0],[10,6]]},"legend":null}}},
              {"mark":{"type":"point","filled":true,"size":95,"opacity":1},"encoding":{"fill":{"field":"s","type":"nominal","scale":{"domain":["FALSE","TRUE"],"range":["#0b57a8","#a0101a"]},"legend":null},"shape":{"field":"s","type":"nominal","scale":{"domain":["FALSE","TRUE"],"range":["circle","square"]},"legend":null}}}
             ]}
          ]
        },
        {
          "spacing": 0, "bounds": "flush",
          "resolve": {"scale": {"x": "independent", "y": "independent", "stroke": "independent", "fill": "independent", "shape": "independent", "strokeDash": "independent"}, "axis": {"x": "independent", "y": "independent"}, "legend": {"stroke": "independent", "fill": "independent", "shape": "independent", "strokeDash": "independent"}},
          "vconcat": [
            {"width":1,"height":102,"data":{"values":[]},"mark":{"type":"line"},"encoding":{"x":{"field":"x","type":"quantitative","scale":{"domain":[0,1]},"axis":null},"y":{"field":"y","type":"quantitative","scale":{"domain":[0,1]},"axis":null},
              "stroke":{"field":"s","type":"nominal","title":"RNN_Nodes","scale":{"domain":["32","144","256"],"range":["#2060b0","#c03c3c","#3aa23a"]},"legend":{"orient":"none","legendX":27,"legendY":0,"symbolType":"M-1,0H5M17.3,0","labelAlign":"right","labelOffset":93,"encode":{"title":{"update":{"dx":{"value":43}}}}}},
              "strokeDash":{"field":"s","type":"nominal","title":"RNN_Nodes","scale":{"domain":["32","144","256"],"range":[[1,0],[10,6],[5,3]]},"legend":{"orient":"none","legendX":27,"legendY":0,"symbolType":"M-1,0H5M17.3,0","labelAlign":"right","labelOffset":93,"encode":{"title":{"update":{"dx":{"value":43}}}}}}}},
            {"width":1,"height":102,"data":{"values":[]},"mark":{"type":"line"},"encoding":{"x":{"field":"x","type":"quantitative","scale":{"domain":[0,1]},"axis":null},"y":{"field":"y","type":"quantitative","scale":{"domain":[0,1]},"axis":null},
              "stroke":{"field":"s","type":"nominal","title":"extra_lstm","scale":{"domain":["FALSE","TRUE"],"range":["#2060b0","#c03c3c"]},"legend":{"orient":"none","legendX":27,"legendY":0,"symbolType":"M-1,0H5M17.3,0","encode":{"title":{"update":{"dx":{"value":43}}}}}},
              "strokeDash":{"field":"s","type":"nominal","title":"extra_lstm","scale":{"domain":["FALSE","TRUE"],"range":[[1,0],[10,6]]},"legend":{"orient":"none","legendX":27,"legendY":0,"symbolType":"M-1,0H5M17.3,0","encode":{"title":{"update":{"dx":{"value":43}}}}}}}},
            {"width":1,"height":102,"data":{"values":[]},"mark":{"type":"point","filled":true,"opacity":1},"encoding":{"x":{"field":"x","type":"quantitative","scale":{"domain":[0,1]},"axis":null},"y":{"field":"y","type":"quantitative","scale":{"domain":[0,1]},"axis":null},
              "fill":{"field":"s","type":"nominal","title":"extra_dense","scale":{"domain":["FALSE","TRUE"],"range":["#0b57a8","#a0101a"]},"legend":{"orient":"none","legendX":27,"legendY":0,"encode":{"title":{"update":{"dx":{"value":43}}}}}},
              "stroke":{"field":"s","type":"nominal","title":"extra_dense","scale":{"domain":["FALSE","TRUE"],"range":["#2060b0","#c03c3c"]},"legend":{"orient":"none","legendX":27,"legendY":0,"encode":{"title":{"update":{"dx":{"value":43}}}}}},
              "shape":{"field":"s","type":"nominal","title":"extra_dense","scale":{"domain":["FALSE","TRUE"],"range":["M-1,0H5M2.92,0A0.92,0.92,0,1,1,1.08,0A0.92,0.92,0,1,1,2.92,0ZM17.3,0","M-1,0H5M1.17,-0.83H2.83V0.83H1.17ZM17.3,0"]},"legend":{"orient":"none","legendX":27,"legendY":0,"encode":{"title":{"update":{"dx":{"value":43}}}}}}}},
            {"width":1,"height":102,"data":{"values":[]},"mark":{"type":"point","filled":true,"opacity":1},"encoding":{"x":{"field":"x","type":"quantitative","scale":{"domain":[0,1]},"axis":null},"y":{"field":"y","type":"quantitative","scale":{"domain":[0,1]},"axis":null},
              "fill":{"field":"s","type":"nominal","title":"first_layer","scale":{"domain":["GRU","LSTM"],"range":["#0b57a8","#a0101a"]},"legend":{"orient":"none","legendX":27,"legendY":0,"encode":{"title":{"update":{"dx":{"value":43}}}}}},
              "stroke":{"field":"s","type":"nominal","title":"first_layer","scale":{"domain":["GRU","LSTM"],"range":["#2060b0","#c03c3c"]},"legend":{"orient":"none","legendX":27,"legendY":0,"encode":{"title":{"update":{"dx":{"value":43}}}}}},
              "shape":{"field":"s","type":"nominal","title":"first_layer","scale":{"domain":["GRU","LSTM"],"range":["M-1,0H5M2.92,0A0.92,0.92,0,1,1,1.08,0A0.92,0.92,0,1,1,2.92,0ZM17.3,0","M-1,0H5M1.17,-0.83H2.83V0.83H1.17ZM17.3,0"]},"legend":{"orient":"none","legendX":27,"legendY":0,"encode":{"title":{"update":{"dx":{"value":43}}}}}}}},
            {"width":1,"height":102,"data":{"values":[]},"mark":{"type":"point","filled":true,"opacity":1},"encoding":{"x":{"field":"x","type":"quantitative","scale":{"domain":[0,1]},"axis":null},"y":{"field":"y","type":"quantitative","scale":{"domain":[0,1]},"axis":null},
              "fill":{"field":"s","type":"nominal","title":"seasonal","scale":{"domain":["Daily","Weekly"],"range":["#0b57a8","#a0101a"]},"legend":{"orient":"none","legendX":27,"legendY":0,"encode":{"title":{"update":{"dx":{"value":43}}}}}},
              "stroke":{"field":"s","type":"nominal","title":"seasonal","scale":{"domain":["Daily","Weekly"],"range":["#2060b0","#c03c3c"]},"legend":{"orient":"none","legendX":27,"legendY":0,"encode":{"title":{"update":{"dx":{"value":43}}}}}},
              "shape":{"field":"s","type":"nominal","title":"seasonal","scale":{"domain":["Daily","Weekly"],"range":["M-1,0H5M2.92,0A0.92,0.92,0,1,1,1.08,0A0.92,0.92,0,1,1,2.92,0ZM17.3,0","M-1,0H5M1.17,-0.83H2.83V0.83H1.17ZM17.3,0"]},"legend":{"orient":"none","legendX":27,"legendY":0,"encode":{"title":{"update":{"dx":{"value":43}}}}}}}},
            {"width":1,"height":102,"data":{"values":[]},"mark":{"type":"point","filled":true,"opacity":1},"encoding":{"x":{"field":"x","type":"quantitative","scale":{"domain":[0,1]},"axis":null},"y":{"field":"y","type":"quantitative","scale":{"domain":[0,1]},"axis":null},
              "fill":{"field":"s","type":"nominal","title":"RTN_Drop","scale":{"domain":["FALSE","TRUE"],"range":["#0b57a8","#a0101a"]},"legend":{"orient":"none","legendX":27,"legendY":0,"encode":{"title":{"update":{"dx":{"value":43}}}}}},
              "stroke":{"field":"s","type":"nominal","title":"RTN_Drop","scale":{"domain":["FALSE","TRUE"],"range":["#2060b0","#c03c3c"]},"legend":{"orient":"none","legendX":27,"legendY":0,"encode":{"title":{"update":{"dx":{"value":43}}}}}},
              "shape":{"field":"s","type":"nominal","title":"RTN_Drop","scale":{"domain":["FALSE","TRUE"],"range":["M-1,0H5M2.92,0A0.92,0.92,0,1,1,1.08,0A0.92,0.92,0,1,1,2.92,0ZM17.3,0","M-1,0H5M1.17,-0.83H2.83V0.83H1.17ZM17.3,0"]},"legend":{"orient":"none","legendX":27,"legendY":0,"encode":{"title":{"update":{"dx":{"value":43}}}}}}}}
          ]
        }
      ]
    },
    {"width":1,"height":1,"data":{"values":[{"t":"All displayed terms are in the model."}]},"mark":{"type":"text","align":"left","dx":-68,"fontSize":23.5,"fontStyle":"italic","font":"Open Sans","color":"#222222"},"encoding":{"text":{"field":"t","type":"nominal"}}}
  ],
  "config": {
    "background": "#e6e6e6",
    "font": "Open Sans",
    "view": {"stroke": null},
    "concat": {"spacing": 0},
    "axis": {"labelFont": "Open Sans", "titleFont": "Open Sans", "domain": false, "grid": false, "tickColor": "#8a8a8a", "tickSize": 5, "tickWidth": 1.2, "labelColor": "#222222", "titleColor": "#222222", "labelFontSize": 13},
    "axisY": {"labelPadding": 1, "offset": 8},
    "axisX": {"labelPadding": 3, "titleFontSize": 16, "titleFontWeight": 600, "titlePadding": 10, "labelAngle": 0},
    "legend": {"direction": "vertical", "strokeColor": "#a8a8a8", "fillColor": "#ffffff", "padding": 7, "cornerRadius": 2, "titleFont": "Open Sans", "labelFont": "Open Sans", "titleFontSize": 11, "titleFontWeight": "normal", "titleColor": "#222222", "labelFontSize": 11, "labelColor": "#222222", "titlePadding": 5, "rowPadding": 3, "symbolSize": 144, "symbolStrokeWidth": 1.6, "labelOffset": 28}
  }
}
